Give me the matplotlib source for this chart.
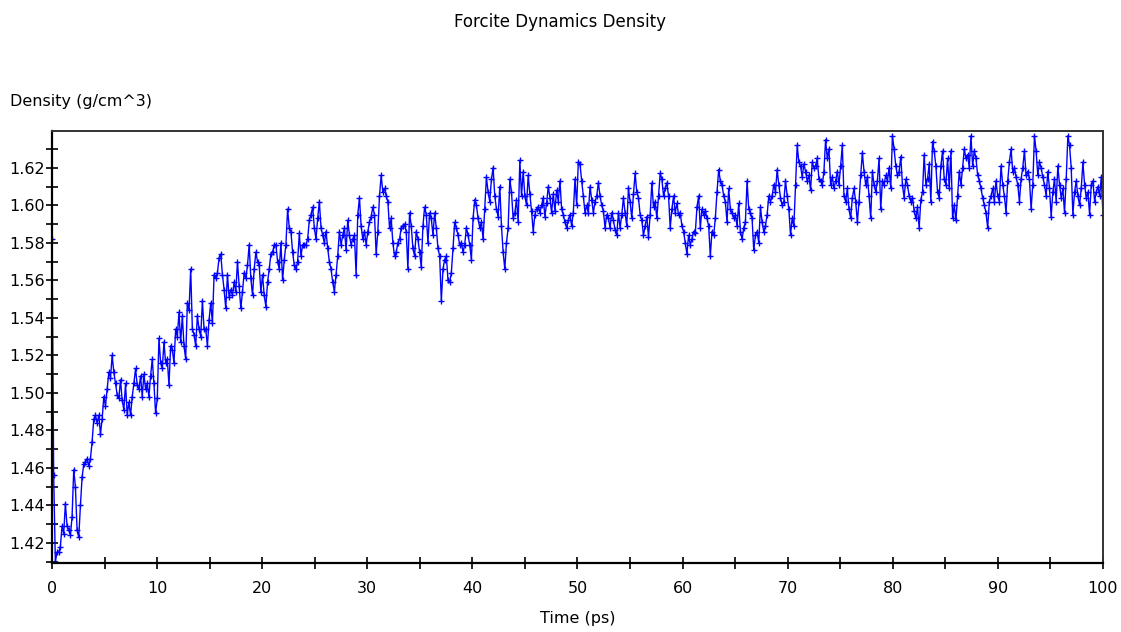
import numpy as np
import matplotlib
matplotlib.use("Agg")
import matplotlib.pyplot as plt
from matplotlib.ticker import MultipleLocator, FormatStrFormatter

# Density (g/cm^3), roughly every 0.16 ps from 0 to 100 ps
density_0_20 = [
    1.582, 1.456, 1.410, 1.415, 1.415, 1.418, 1.429, 1.425, 1.441, 1.429,
    1.427, 1.424, 1.434, 1.459, 1.450, 1.427, 1.423, 1.440, 1.455, 1.462,
    1.463, 1.465, 1.461, 1.465, 1.474, 1.486, 1.488, 1.484, 1.488, 1.478,
    1.486, 1.498, 1.493, 1.502, 1.511, 1.508, 1.520, 1.511, 1.505, 1.499,
    1.497, 1.507, 1.496, 1.491, 1.505, 1.488, 1.495, 1.488, 1.498, 1.505,
    1.513, 1.504, 1.502, 1.509, 1.498, 1.510, 1.502, 1.505, 1.498, 1.509,
    1.518, 1.505, 1.489, 1.497, 1.529, 1.516, 1.513, 1.527, 1.516, 1.518,
    1.504, 1.525, 1.523, 1.516, 1.534, 1.530, 1.543, 1.527, 1.541, 1.525,
    1.518, 1.548, 1.544, 1.566, 1.534, 1.531, 1.525, 1.541, 1.534, 1.530,
    1.549, 1.534, 1.534, 1.525, 1.539, 1.548, 1.537, 1.563, 1.561, 1.564,
    1.572, 1.574, 1.563, 1.555, 1.545, 1.563, 1.551, 1.555, 1.552, 1.559,
    1.554, 1.570, 1.557, 1.545, 1.554, 1.564, 1.561, 1.568, 1.579, 1.561,
    1.552, 1.566, 1.575, 1.570,
]
density_20_40 = [
    1.568, 1.554, 1.563, 1.552, 1.546, 1.559, 1.566, 1.574, 1.575, 1.579,
    1.579, 1.570, 1.566, 1.580, 1.560, 1.571, 1.579, 1.598, 1.588, 1.586,
    1.575, 1.568, 1.566, 1.570, 1.585, 1.573, 1.579, 1.579, 1.579, 1.582,
    1.592, 1.595, 1.599, 1.588, 1.582, 1.593, 1.602, 1.588, 1.584, 1.580,
    1.586, 1.577, 1.570, 1.566, 1.559, 1.554, 1.563, 1.573, 1.586, 1.579,
    1.584, 1.588, 1.576, 1.592, 1.584, 1.579, 1.582, 1.584, 1.563, 1.595,
    1.604, 1.589, 1.582, 1.586, 1.579, 1.586, 1.591, 1.594, 1.599, 1.595,
    1.574, 1.586, 1.605, 1.616, 1.607, 1.609, 1.605, 1.602, 1.588, 1.593,
    1.580, 1.573, 1.575, 1.580, 1.582, 1.588, 1.589, 1.590, 1.586, 1.566,
    1.596, 1.589, 1.577, 1.573, 1.586, 1.582, 1.575, 1.567, 1.589, 1.599,
    1.595, 1.580, 1.596, 1.593, 1.584, 1.596, 1.588, 1.577, 1.573, 1.549,
    1.566, 1.571, 1.573, 1.560, 1.559, 1.564, 1.577, 1.591, 1.588, 1.584,
    1.579, 1.580, 1.575, 1.579, 1.588, 1.584, 1.579,
]
density_40_60 = [
    1.571, 1.593, 1.603, 1.600, 1.593, 1.588, 1.591, 1.582, 1.598, 1.615,
    1.607, 1.602, 1.614, 1.620, 1.605, 1.598, 1.594, 1.610, 1.589, 1.575,
    1.566, 1.580, 1.588, 1.614, 1.607, 1.593, 1.596, 1.603, 1.591, 1.624,
    1.605, 1.618, 1.605, 1.600, 1.616, 1.606, 1.597, 1.586, 1.595, 1.598,
    1.599, 1.596, 1.600, 1.604, 1.594, 1.601, 1.610, 1.604, 1.596, 1.606,
    1.597, 1.608, 1.602, 1.613, 1.598, 1.595, 1.591, 1.588, 1.592, 1.595,
    1.589, 1.596, 1.614, 1.600, 1.623, 1.622, 1.613, 1.605, 1.596, 1.600,
    1.596, 1.610, 1.603, 1.596, 1.602, 1.605, 1.612, 1.605, 1.600, 1.597,
    1.588, 1.595, 1.593, 1.588, 1.596, 1.592, 1.587, 1.584, 1.596, 1.588,
    1.595, 1.604, 1.596, 1.589, 1.609, 1.602, 1.593, 1.606, 1.617, 1.607,
    1.604, 1.595, 1.592, 1.584, 1.589, 1.594, 1.583, 1.595, 1.612, 1.599,
    1.602, 1.593, 1.605, 1.617, 1.614, 1.605, 1.609, 1.612, 1.605, 1.588,
    1.598, 1.605, 1.596, 1.601, 1.595, 1.596,
]
density_60_80 = [
    1.589, 1.586, 1.580, 1.574, 1.584, 1.579, 1.582, 1.586, 1.585, 1.599,
    1.605, 1.588, 1.598, 1.595, 1.597, 1.593, 1.589, 1.573, 1.586, 1.584,
    1.593, 1.607, 1.619, 1.613, 1.611, 1.605, 1.602, 1.591, 1.609, 1.598,
    1.596, 1.593, 1.595, 1.589, 1.601, 1.586, 1.582, 1.588, 1.591, 1.613,
    1.598, 1.596, 1.593, 1.576, 1.584, 1.586, 1.580, 1.599, 1.591, 1.586,
    1.589, 1.595, 1.605, 1.602, 1.605, 1.611, 1.607, 1.619, 1.611, 1.604,
    1.600, 1.602, 1.613, 1.605, 1.598, 1.584, 1.593, 1.589, 1.611, 1.632,
    1.623, 1.621, 1.615, 1.622, 1.618, 1.613, 1.616, 1.608, 1.623, 1.620,
    1.621, 1.625, 1.614, 1.613, 1.611, 1.618, 1.635, 1.625, 1.630, 1.611,
    1.615, 1.609, 1.613, 1.618, 1.611, 1.621, 1.632, 1.605, 1.602, 1.609,
    1.598, 1.593, 1.604, 1.609, 1.602, 1.591, 1.602, 1.616, 1.628, 1.618,
    1.611, 1.615, 1.605, 1.593, 1.618, 1.611, 1.607, 1.613, 1.625, 1.598,
    1.613, 1.611, 1.616, 1.613, 1.620, 1.609,
]
density_80_100 = [
    1.637, 1.630, 1.621, 1.616, 1.618, 1.626, 1.611, 1.604, 1.614, 1.611,
    1.605, 1.602, 1.604, 1.597, 1.593, 1.599, 1.588, 1.603, 1.607, 1.627,
    1.611, 1.614, 1.622, 1.602, 1.634, 1.629, 1.621, 1.607, 1.604, 1.621,
    1.629, 1.614, 1.611, 1.625, 1.609, 1.629, 1.593, 1.600, 1.592, 1.605,
    1.618, 1.611, 1.620, 1.630, 1.625, 1.627, 1.620, 1.637, 1.621, 1.629,
    1.625, 1.616, 1.613, 1.609, 1.604, 1.600, 1.596, 1.588, 1.602, 1.605,
    1.609, 1.602, 1.613, 1.605, 1.602, 1.621, 1.611, 1.605, 1.596, 1.613,
    1.623, 1.630, 1.618, 1.620, 1.615, 1.611, 1.602, 1.614, 1.620, 1.629,
    1.616, 1.618, 1.614, 1.598, 1.611, 1.637, 1.629, 1.616, 1.623, 1.620,
    1.615, 1.611, 1.605, 1.618, 1.609, 1.594, 1.607, 1.614, 1.602, 1.621,
    1.611, 1.604, 1.609, 1.596, 1.614, 1.637, 1.632, 1.620, 1.595, 1.607,
    1.613, 1.605, 1.600, 1.609, 1.623, 1.611, 1.604, 1.607, 1.595, 1.611,
    1.613, 1.602, 1.607, 1.610, 1.605, 1.615, 1.595,
]

density = np.array(density_0_20 + density_20_40 + density_40_60
                   + density_60_80 + density_80_100)
time_ps = np.linspace(0, 100, len(density))

plt.rcParams['font.family'] = ['DejaVu Sans']

fig = plt.figure(figsize=(11.21, 6.32), dpi=100)
ax = fig.add_axes([0.0464, 0.1092, 0.9375, 0.6835])

ax.plot(time_ps, density, color='#0000ff', lw=1.0, marker='+',
        markersize=5, markeredgewidth=1.0)

ax.set_xlim(0, 100)
ax.set_ylim(1.4093, 1.6396)
ax.xaxis.set_major_locator(MultipleLocator(10))
ax.xaxis.set_minor_locator(MultipleLocator(5))
ax.yaxis.set_major_locator(MultipleLocator(0.02))
ax.yaxis.set_minor_locator(MultipleLocator(0.01))
ax.yaxis.set_major_formatter(FormatStrFormatter('%.2f'))

ax.tick_params(which='both', direction='inout', length=8, width=1.2,
               labelsize=11.5, colors='black')
ax.tick_params(axis='x', pad=9)
ax.tick_params(axis='y', pad=1)

for side in ['left', 'bottom']:
    ax.spines[side].set_linewidth(1.6)
for side in ['top', 'right']:
    ax.spines[side].set_linewidth(1.4)
    ax.spines[side].set_color('#333333')

ax.set_xlabel('Time (ps)', fontsize=11.5, labelpad=11)
fig.text(0.5, 0.965, 'Forcite Dynamics Density', ha='center', va='center',
         fontsize=12)
fig.text(0.009, 0.84, 'Density (g/cm^3)', ha='left', va='center',
         fontsize=11.5)

fig.savefig('out.png', dpi=100)
